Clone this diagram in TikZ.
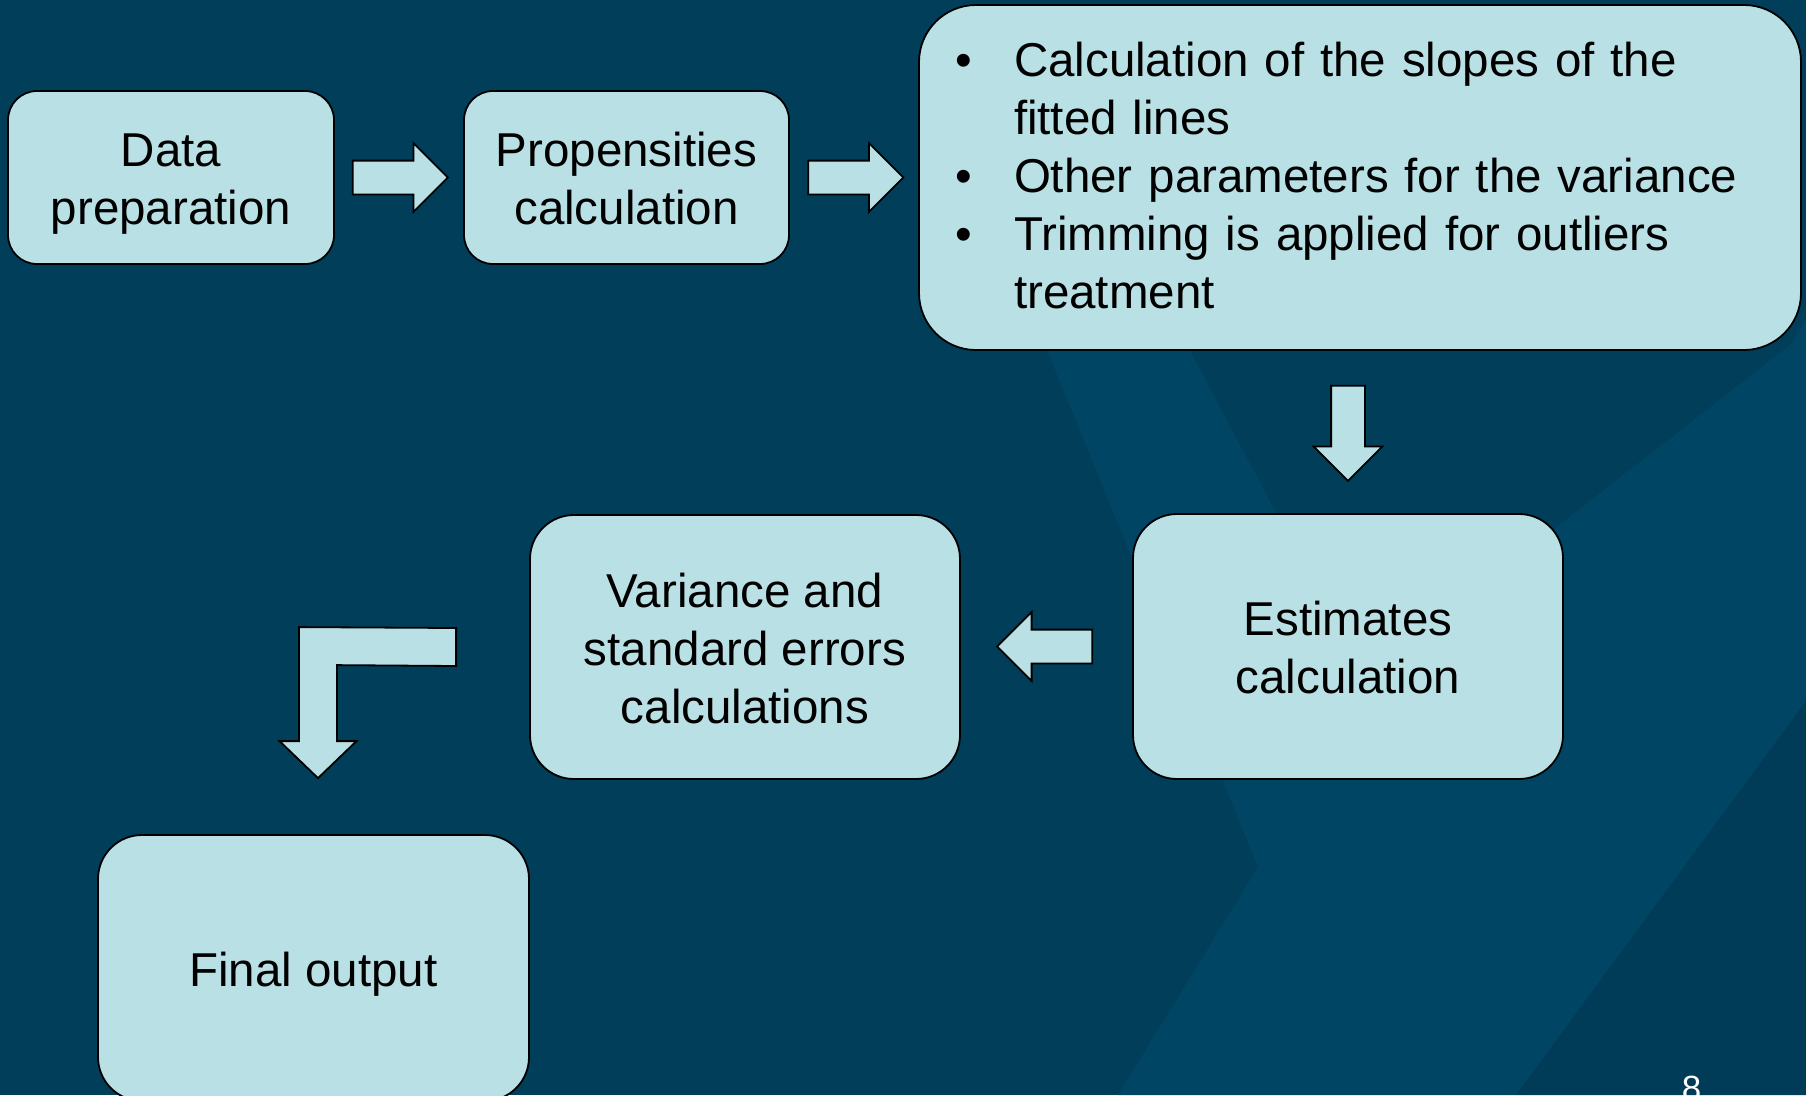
\documentclass[tikz,border=0pt]{standalone}
\usepackage{fontspec}
\setmainfont{Liberation Sans}
\usetikzlibrary{shapes.arrows,calc}
\definecolor{bg}{RGB}{0,62,90}
\definecolor{bgl}{RGB}{0,70,100}
\definecolor{bgd}{RGB}{0,60,87}
\definecolor{boxc}{RGB}{185,224,228}
\newcommand{\tstrut}[1]{\rule{0pt}{#1}}
\newcommand{\bstrut}{\rule[-12pt]{0pt}{12pt}}
\newcommand{\bul}{\makebox[59pt][l]{\textbullet}}
\begin{document}
\begin{tikzpicture}[x=1pt,y=-1pt,
  box/.style={draw=black, line width=1.8pt, fill=boxc, align=center, inner sep=0pt,
    font=\fontsize{47.5}{58}\selectfont},
  blockarrow/.style={single arrow, draw=black, line width=1.8pt, fill=boxc,
    inner xsep=0pt, inner ysep=16pt, single arrow head extend=17.5pt,
    single arrow tip angle=90, minimum height=95pt, anchor=tail},
  vblockarrow/.style={blockarrow, inner xsep=16pt, inner ysep=0pt}]
\clip (0,0) rectangle (1806,1095);
\fill[bg] (0,0) rectangle (1806,1095);
% subtle background chevrons
\fill[bgl] (1045,345) -- (1258,867) -- (1118,1095) -- (1516,1095) -- (1806,701)
  -- (1806,320) -- (1790,345) -- (1559,525) -- (1370,690) -- (1187,345) -- cycle;
\fill[bgd] (1806,701) -- (1806,1095) -- (1516,1095) -- cycle;
% boxes
\node[box, rounded corners=29pt, minimum width=326pt, minimum height=173pt] (prep)
  at (171,177.5) {\tstrut{48pt}Data\\preparation\bstrut};
\node[box, rounded corners=29pt, minimum width=325pt, minimum height=173pt] (prop)
  at (626.5,177.5) {\tstrut{48pt}Propensities\\calculation\bstrut};
\node[box, align=left, text width=810pt, inner xsep=36pt, rounded corners=57pt,
  minimum width=882pt, minimum height=345pt] (slopes) at (1360,177.5)
  {\tstrut{42pt}\bul Calculation of the slopes of the\\
   \hspace*{59pt}fitted lines\\
   \bul Other parameters for the variance\\
   \bul Trimming is applied for outliers\\
   \hspace*{59pt}treatment\bstrut};
\node[box, rounded corners=44pt, minimum width=430pt, minimum height=265pt] (est)
  at (1348,646.5) {\tstrut{48pt}Estimates\\calculation\bstrut};
\node[box, rounded corners=44pt, minimum width=430pt, minimum height=264pt] (var)
  at (745,647) {\tstrut{48pt}Variance and\\standard errors\\calculations\bstrut};
\node[box, rounded corners=44pt, minimum width=431pt, minimum height=266pt] (fin)
  at (313.5,968) {\tstrut{48pt}Final output\bstrut};
% block arrows between boxes
\node[blockarrow] (a1) at ($(prep.east)+(17,0)$) {};
\node[blockarrow] (a2) at ($(prop.east)+(17.5,0)$) {};
\node[vblockarrow, shape border rotate=270] (a3) at ($(slopes.south -| est.north)+(0,34)$) {};
\node[blockarrow, shape border rotate=180] (a4) at ($(est.west)+(-39,0)$) {};
% bent arrow from var to fin
\coordinate (bstart) at ($(var.west)+(-73,0)$);
\coordinate (btip) at ($(fin.north)+(4.5,-56)$);
\draw[line width=1.8pt, fill=boxc, line join=miter]
  ($(bstart)+(0,-19)$) -- ($(btip)+(-19,-151)$) -- ($(btip)+(-19,-37)$)
  -- ($(btip)+(-38.5,-37)$) -- (btip) -- ($(btip)+(38.5,-37)$)
  -- ($(btip)+(19,-37)$) -- ($(btip)+(19,-113)$) -- ($(bstart)+(0,19)$) -- cycle;
% page number
\node[text=white, font=\fontsize{35}{42}\selectfont, anchor=base, inner sep=0pt] (pg)
  at (1691.5,1100) {8};
\end{tikzpicture}
\end{document}
